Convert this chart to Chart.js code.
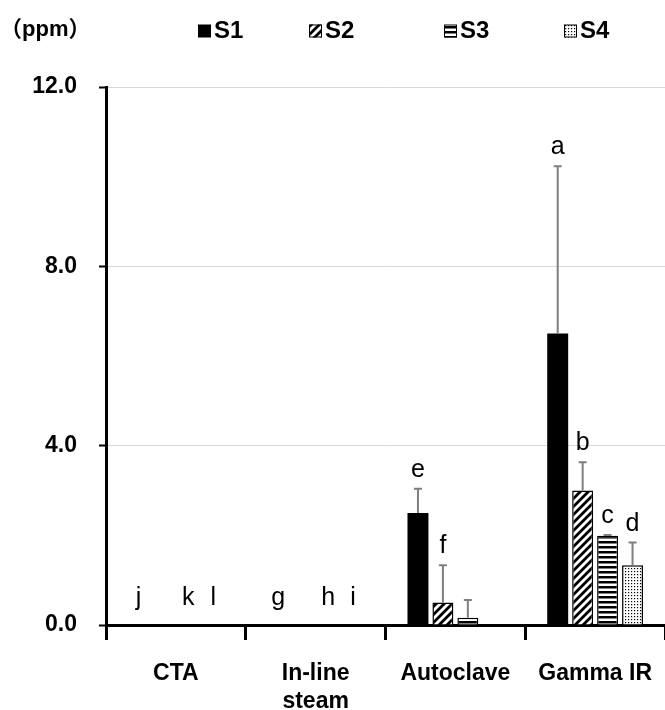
<!DOCTYPE html>
<html>
<head>
<meta charset="utf-8">
<script src="https://cdn.jsdelivr.net/npm/chart.js@4"></script>
<style>
html,body{margin:0;padding:0;background:#fff;}
#wrap{width:665px;height:710px;position:relative;}
</style>
</head>
<body>
<div id="wrap"><canvas id="c" width="665" height="710"></canvas></div>
<script>
// ---- data ----
const categories = ['CTA', ['In-line', 'steam'], 'Autoclave', 'Gamma IR'];
const seriesNames = ['S1', 'S2', 'S3', 'S4'];
const s1Values = [0, 0, 2.50, 6.50];
const s2Values = [0, 0, 0.50, 3.00];
const s3Values = [0, 0, 0.16, 1.99];
const s4Values = [0, 0, 0.00, 1.33];
const s1Errors = [0, 0, 0.54, 3.73];
const s2Errors = [0, 0, 0.83, 0.63];
const s3Errors = [0, 0, 0.40, 0.02];
const s4Errors = [0, 0, 0.00, 0.51];
const s1Letters = ['j', 'g', 'e', 'a'];
const s2Letters = ['', '', 'f', 'b'];
const s3Letters = ['k', 'h', '', 'c'];
const s4Letters = ['l', 'i', '', 'd'];
const yTickValues = [0, 4, 8, 12];
const unitLabel = '（ppm）';

const FONT = "'Liberation Sans', Arial, 'Noto Sans CJK JP', sans-serif";

// ---- patterns ----
function makePattern(kind) {
  const c = document.createElement('canvas');
  const ctx = c.getContext('2d');
  if (kind === 'diag') {
    c.width = 8; c.height = 8;
    ctx.fillStyle = '#fff'; ctx.fillRect(0, 0, 8, 8);
    ctx.strokeStyle = '#000'; ctx.lineWidth = 2.8;
    ctx.beginPath();
    ctx.moveTo(-4, 4); ctx.lineTo(4, -4);
    ctx.moveTo(0, 8); ctx.lineTo(8, 0);
    ctx.moveTo(4, 12); ctx.lineTo(12, 4);
    ctx.stroke();
  } else if (kind === 'horiz') {
    c.width = 5; c.height = 5;
    ctx.fillStyle = '#fff'; ctx.fillRect(0, 0, 5, 5);
    ctx.fillStyle = '#000'; ctx.fillRect(0, 1, 5, 2.5);
  } else {
    c.width = 3; c.height = 3;
    ctx.fillStyle = '#fff'; ctx.fillRect(0, 0, 3, 3);
    ctx.fillStyle = '#000'; ctx.fillRect(1, 1, 1.2, 1.2);
  }
  const main = document.getElementById('c').getContext('2d');
  return main.createPattern(c, 'repeat');
}
const fills = ['#000000', makePattern('diag'), makePattern('horiz'), makePattern('dots')];

const valuesList = [s1Values, s2Values, s3Values, s4Values];
const errorsList = [s1Errors, s2Errors, s3Errors, s4Errors];
const lettersList = [s1Letters, s2Letters, s3Letters, s4Letters];

const datasets = seriesNames.map((name, i) => ({
  label: name,
  data: valuesList[i],
  errors: errorsList[i],
  letters: lettersList[i],
  backgroundColor: fills[i],
  borderColor: '#000',
  borderWidth: i === 0 ? 0 : 1.5,
  categoryPercentage: 0.714,
  barPercentage: 0.84
}));

// ---- plugins ----
const overlayPlugin = {
  id: 'overlay',
  afterDatasetsDraw(chart) {
    const ctx = chart.ctx;
    const y = chart.scales.y;
    ctx.save();
    chart.data.datasets.forEach((ds, i) => {
      const meta = chart.getDatasetMeta(i);
      meta.data.forEach((el, j) => {
        const v = ds.data[j];
        const e = ds.errors[j];
        if (e > 0) {
          const y0 = y.getPixelForValue(v);
          const y1 = y.getPixelForValue(v + e);
          ctx.strokeStyle = '#7f7f7f';
          ctx.lineWidth = 2;
          ctx.beginPath();
          ctx.moveTo(el.x, y0);
          ctx.lineTo(el.x, y1);
          ctx.moveTo(el.x - 4, y1);
          ctx.lineTo(el.x + 4, y1);
          ctx.stroke();
        }
        const L = ds.letters[j];
        if (L) {
          const top = y.getPixelForValue(v + e);
          const gap = (v === 0) ? 20 : 12;
          ctx.fillStyle = '#000';
          ctx.font = '25px ' + FONT;
          ctx.textAlign = 'center';
          ctx.textBaseline = 'alphabetic';
          ctx.fillText(L, el.x, top - gap);
        }
      });
    });
    ctx.restore();
  },
  afterDraw(chart) {
    const ctx = chart.ctx;
    ctx.save();
    ctx.fillStyle = '#000';
    ctx.textBaseline = 'middle';
    ctx.textAlign = 'left';
    ctx.font = 'bold 22px ' + FONT;
    ctx.fillText(unitLabel, 0, 30);
    const boxX = [198, 309, 444, 564];
    const cy = 31;
    chart.data.datasets.forEach((ds, i) => {
      const bx = boxX[i];
      const s = 13;
      ctx.fillStyle = ds.backgroundColor;
      ctx.fillRect(bx, cy - s / 2, s, s);
      if (i > 0) {
        ctx.strokeStyle = '#000';
        ctx.lineWidth = 1;
        ctx.strokeRect(bx + 0.5, cy - s / 2 + 0.5, s - 1, s - 1);
      }
      ctx.fillStyle = '#000';
      ctx.font = 'bold 24px ' + FONT;
      ctx.fillText(ds.label, bx + s + 3, cy);
    });
    ctx.restore();
  }
};

new Chart(document.getElementById('c'), {
  type: 'bar',
  data: { labels: categories, datasets },
  options: {
    responsive: false,
    animation: false,
    layout: { padding: { top: 87, right: 0, left: 0, bottom: 0 } },
    plugins: { legend: { display: false }, tooltip: { enabled: false } },
    scales: {
      x: {
        afterFit(s) { s.height = 85; s.paddingLeft = 0; s.paddingRight = 0; },
        grid: {
          display: true,
          offset: true,
          drawOnChartArea: false,
          drawTicks: true,
          tickLength: 15,
          tickWidth: 3,
          tickColor: '#000'
        },
        border: { display: true, color: '#000', width: 3 },
        ticks: {
          color: '#000',
          font: { family: FONT, size: 23, weight: 'bold', lineHeight: 1.2 },
          padding: 20,
          maxRotation: 0,
          autoSkip: false
        }
      },
      y: {
        min: 0,
        max: 12,
        afterFit(s) { s.width = 106; },
        afterBuildTicks(s) { s.ticks = yTickValues.map(v => ({ value: v })); },
        grid: {
          color: (c) => (c.tick && c.tick.value === 0) ? 'rgba(0,0,0,0)' : '#d9d9d9',
          lineWidth: 1,
          tickLength: 7,
          tickWidth: 2,
          tickColor: '#000'
        },
        border: { display: true, color: '#000', width: 3 },
        ticks: {
          color: '#000',
          font: { family: FONT, size: 23, weight: 'bold' },
          padding: 22,
          callback: (v) => Number(v).toFixed(1)
        }
      }
    }
  },
  plugins: [overlayPlugin]
});
</script>
</body>
</html>
